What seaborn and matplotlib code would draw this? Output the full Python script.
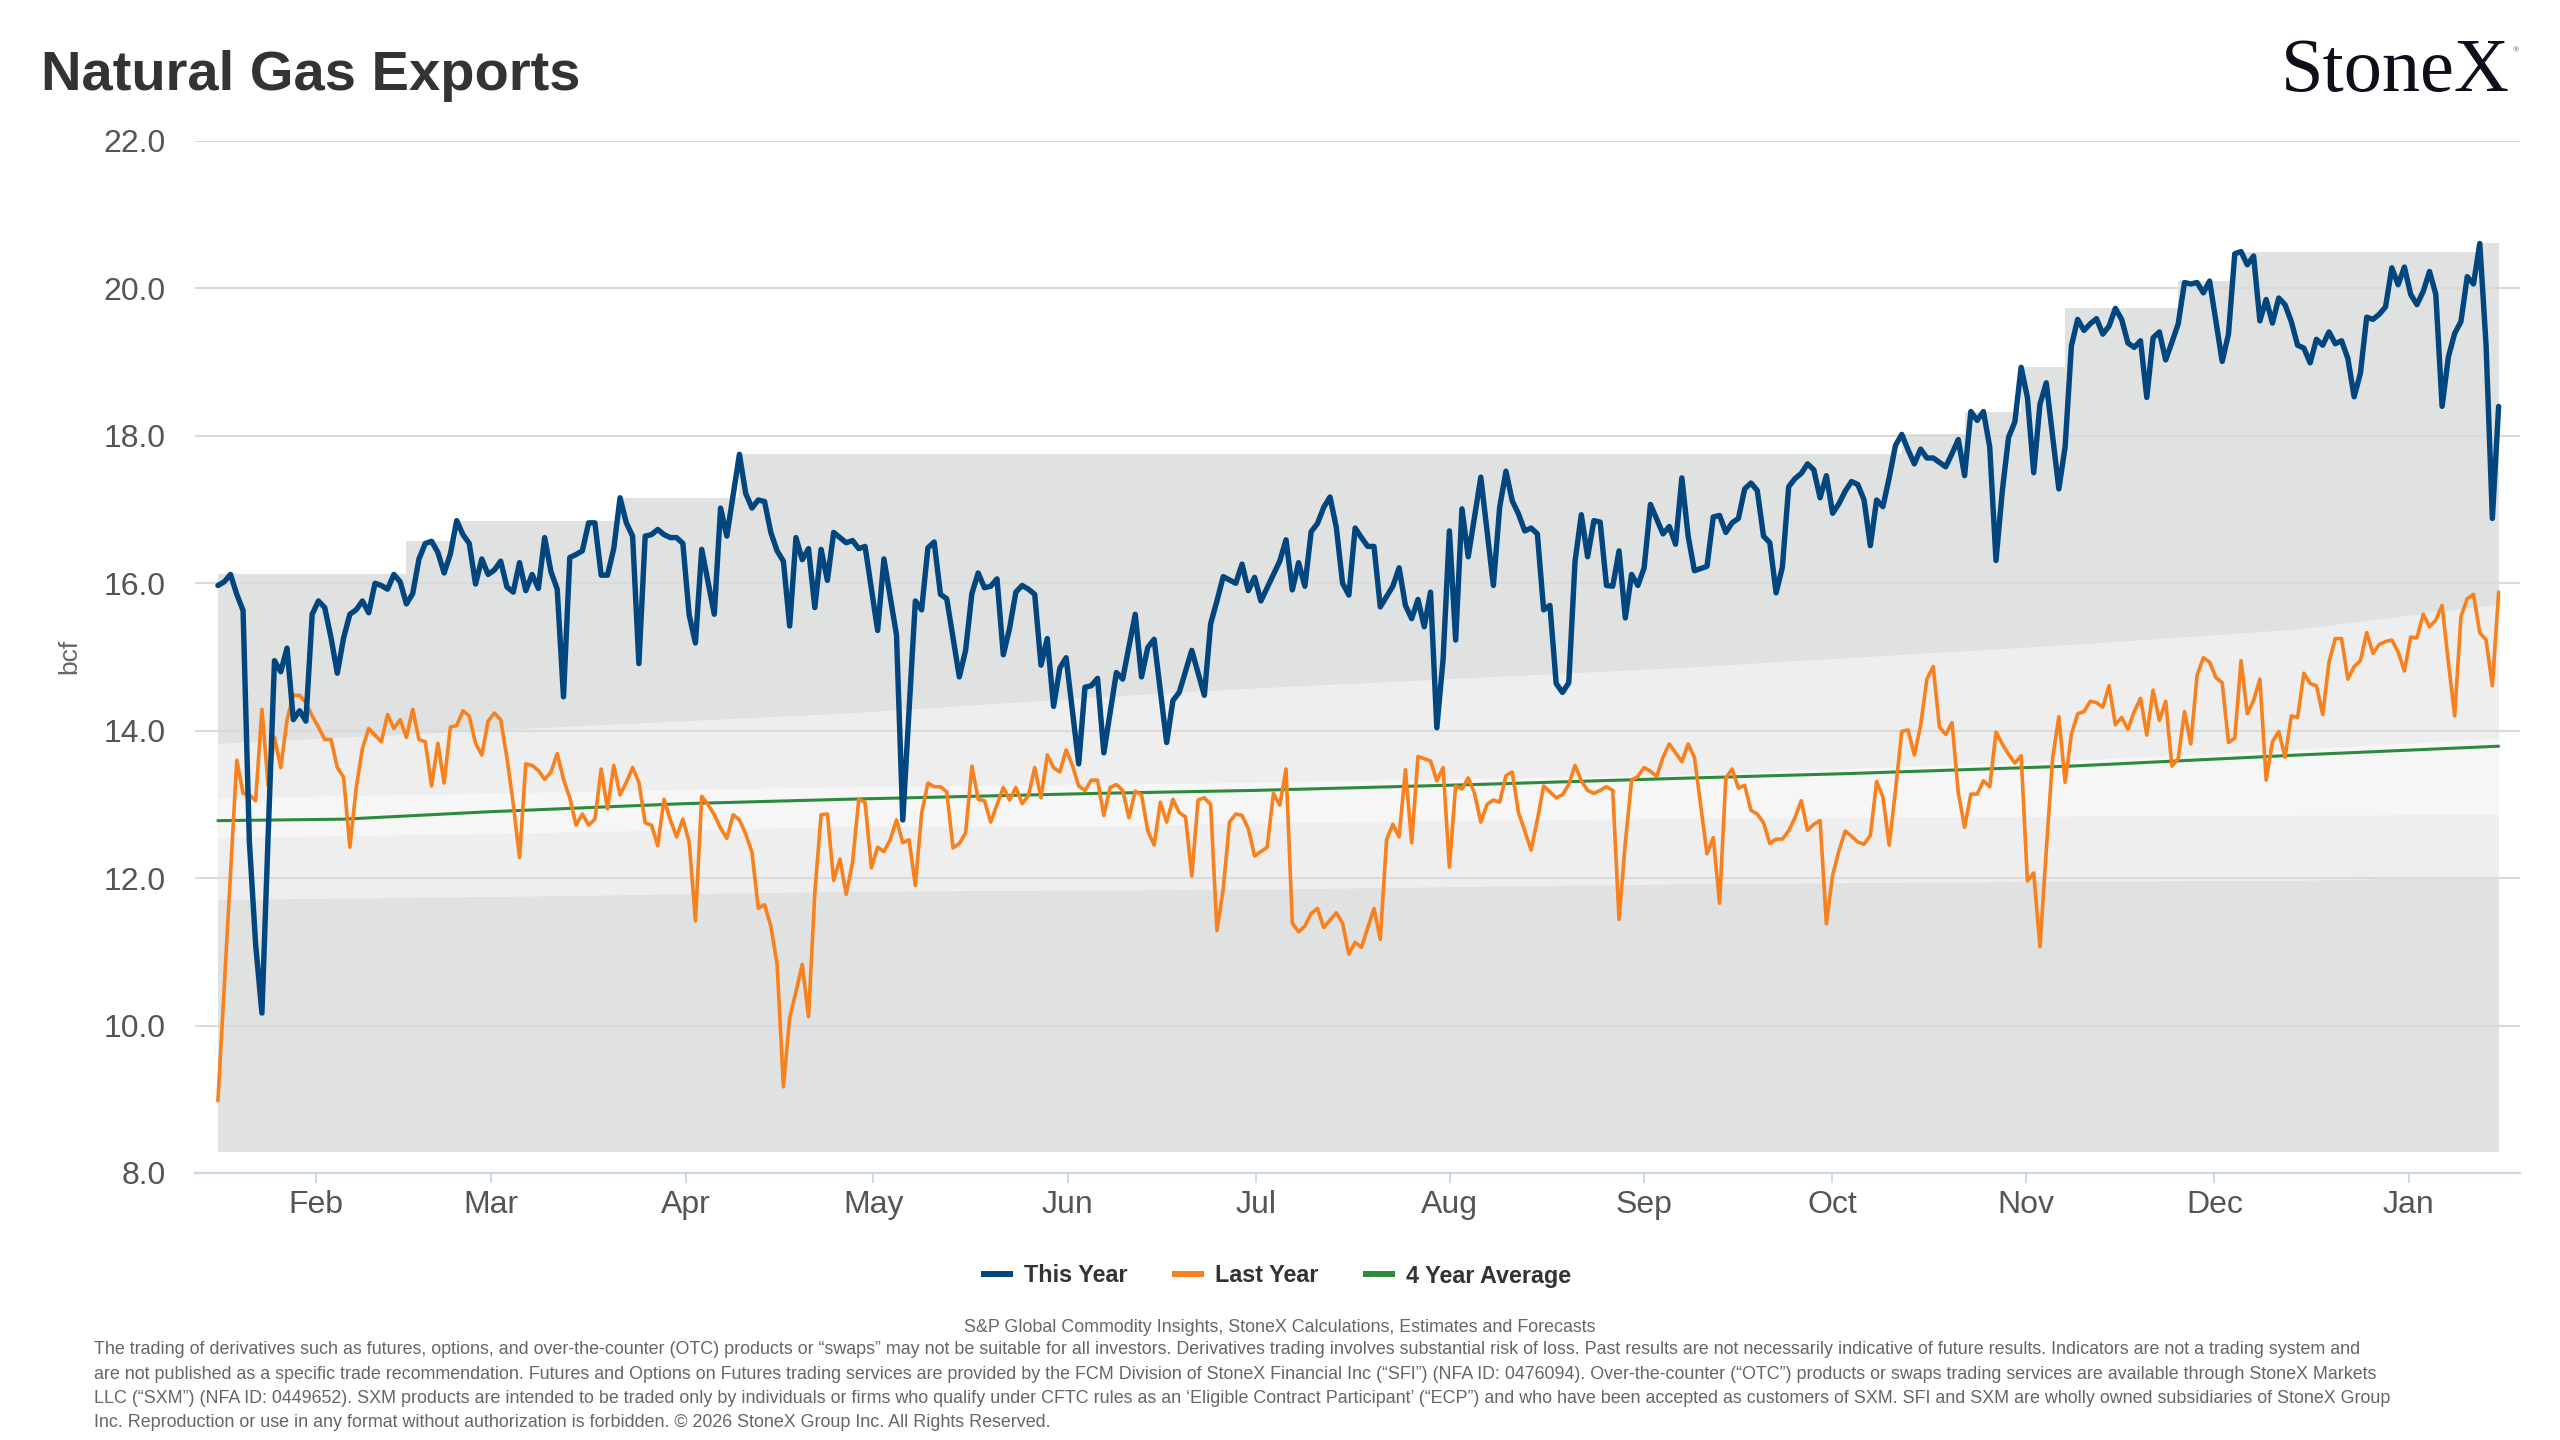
import numpy as np
import pandas as pd
import matplotlib
matplotlib.use("Agg")
import matplotlib.pyplot as plt
import matplotlib.dates as mdates
from matplotlib.lines import Line2D
import seaborn as sns

# day 0 = first point on the chart; points are one (slightly stretched) day apart
start = pd.Timestamp("2025-01-16 09:00")
day_hours = 24.066

this_year_day = list(range(0, 99)) + [
    100, 101, 102, 103, 105, 106, 108, 109, 111, 112, 113, 114, 115, 116, 118, 119, 120, 121,
    122, 123, 124, 125, 126, 127, 128, 129, 130, 131, 132, 133, 134, 135, 137, 138, 139, 140,
    141, 143, 144, 146, 147, 148, 149, 151, 152, 153, 155, 157, 158, 159, 160, 162, 163, 164,
    165, 166, 169, 170, 171, 172, 173, 174, 175, 176, 177, 178, 179, 180, 181, 182, 183, 184,
    185, 186, 187, 188, 189, 190, 191, 192, 193, 194, 195, 196, 197, 198, 199, 201, 203, 204,
    205, 206, 207, 208, 209, 210, 211, 212, 213, 214, 215, 216, 217, 218, 219, 220, 221, 222,
    223, 224, 225, 226, 227, 228, 229, 230, 231, 232, 233, 234, 235, 237, 238, 239, 240, 241,
    242, 243, 244, 245, 246, 247, 248, 249, 250, 251, 252, 253, 254, 255, 256, 257, 258, 259,
    260, 261, 262, 263, 264, 265, 266, 267, 268, 269, 270, 271, 272, 273, 274, 275, 276, 277,
    278, 279, 280, 281, 282, 283, 284, 285, 286, 287, 288, 289, 290, 291, 293, 294, 295, 296,
    297, 298, 299, 300, 301, 302, 303, 304, 305, 306, 307, 308, 309, 310, 311, 312, 313, 314,
    315, 316, 317, 319, 320, 321, 322, 323, 324, 325, 326, 327, 328, 329, 330, 331, 332, 333,
    334, 335, 336, 337, 338, 339, 340, 341, 342, 343, 344, 345, 346, 347, 348, 349, 350, 351,
    352, 353, 354, 355, 356, 357, 358, 359, 360, 361, 362, 363]
this_year_val = [
    15.97, 16.02, 16.12, 15.85, 15.63, 12.50, 11.10, 10.17, 12.60, 14.95, 14.80, 15.12, 14.15,
    14.27, 14.13, 15.58, 15.76, 15.67, 15.26, 14.78, 15.26, 15.58, 15.64, 15.76, 15.60, 16.00,
    15.97, 15.92, 16.12, 16.02, 15.72, 15.86, 16.33, 16.54, 16.57, 16.42, 16.14, 16.40, 16.85,
    16.66, 16.54, 15.99, 16.33, 16.12, 16.18, 16.30, 15.95, 15.88, 16.28, 15.90, 16.12, 15.93,
    16.62, 16.16, 15.92, 14.46, 16.35, 16.39, 16.44, 16.82, 16.82, 16.11, 16.11, 16.47, 17.16,
    16.82, 16.64, 14.91, 16.64, 16.66, 16.73, 16.66, 16.62, 16.62, 16.54, 15.57, 15.19, 16.46,
    16.02, 15.58, 17.02, 16.64, 17.20, 17.75, 17.22, 17.02, 17.13, 17.11, 16.69, 16.44, 16.30,
    15.42, 16.62, 16.32, 16.47, 15.67, 16.46, 16.04, 16.69,
    16.55, 16.58, 16.47, 16.50, 15.36, 16.33, 15.30, 12.79, 15.76, 15.64, 16.48, 16.56, 15.85,
    15.79, 14.73, 15.09, 15.86, 16.14, 15.94, 15.96, 16.06, 15.03, 15.39, 15.88, 15.97, 15.92,
    15.85, 14.89, 15.25, 14.33, 14.85, 14.99, 13.55, 14.59, 14.61, 14.71, 13.70, 14.79, 14.70,
    15.58, 14.73, 15.13, 15.24, 13.84, 14.41, 14.52, 15.09, 14.48, 15.45, 15.76, 16.09, 16.00,
    16.26, 15.90, 16.08, 15.76, 16.30, 16.59, 15.91, 16.28, 15.96, 16.70, 16.81, 17.03, 17.17,
    16.76, 16.00, 15.84, 16.75, 16.62, 16.50, 16.50, 15.68, 15.82, 15.96, 16.21, 15.70, 15.52,
    15.78, 15.41, 15.88, 14.04, 14.97, 16.71, 15.23, 17.01, 16.36, 17.44, 15.97, 17.03, 17.52,
    17.12, 16.94, 16.71, 16.75, 16.67, 15.64, 15.70, 14.64, 14.52, 14.65, 16.30, 16.93, 16.36,
    16.85, 16.83, 15.97, 15.96, 16.44, 15.53, 16.12, 15.97, 16.21, 17.07, 16.87, 16.67, 16.77,
    16.53, 17.43, 16.64, 16.17, 16.23, 16.90, 16.92, 16.69, 16.82, 16.88, 17.28, 17.36, 17.26,
    16.64, 16.55, 15.87, 16.22, 17.31, 17.42, 17.49, 17.62, 17.54, 17.16, 17.46, 16.95, 17.08,
    17.25, 17.38, 17.34, 17.13, 16.51, 17.13, 17.04, 17.43, 17.87, 18.02, 17.81, 17.62, 17.82,
    17.70, 17.70, 17.64, 17.58, 17.76, 17.95, 17.46, 18.33, 18.21, 18.33, 17.85, 16.31, 17.25,
    17.98, 18.19, 18.93, 18.52, 17.50, 18.43, 18.72, 17.28, 17.85, 19.22, 19.58, 19.43, 19.52,
    19.59, 19.38, 19.49, 19.73, 19.58, 19.26, 19.20, 19.29, 18.52, 19.33, 19.41, 19.03, 19.27,
    19.52, 20.08, 20.06, 20.08, 19.94, 20.10, 19.01, 19.38, 20.47, 20.50, 20.32, 20.44, 19.56,
    19.85, 19.53, 19.87, 19.78, 19.55, 19.23, 19.19, 18.99, 19.31, 19.23, 19.41, 19.25, 19.29,
    19.05, 18.53, 18.85, 19.61, 19.58, 19.65, 19.75, 20.28, 20.05, 20.29, 19.92, 19.78, 19.96,
    20.23, 19.92, 18.40, 19.07, 19.39, 19.55, 20.16, 20.06, 20.61, 19.23, 16.88, 18.40]

last_year_day = [0] + list(range(3, 99)) + [
    99, 100, 101, 102, 103, 104, 105, 106, 107, 108, 109, 110, 111, 112, 113, 114, 115, 116,
    117, 118, 119, 120, 121, 122, 123, 125, 126, 127, 128, 129, 130, 131, 132, 133, 134, 135,
    136, 137, 138, 139, 140, 141, 142, 143, 144, 145, 146, 147, 148, 149, 150, 151, 152, 153,
    154, 155, 156, 157, 158, 159, 160, 161, 162, 163, 164, 165, 167, 168, 169, 170, 171, 172,
    173, 174, 175, 176, 178, 179, 180, 181, 182, 184, 185, 186, 187, 188, 189, 190, 191, 193,
    194, 195, 196, 197, 198, 199, 200, 201, 202, 203, 204, 205, 206, 207, 208, 209, 210, 211,
    212, 213, 214, 215, 216, 217, 218, 219, 220, 221, 222, 223, 224, 225, 226, 227, 228, 229,
    230, 231, 233, 234, 235, 236, 237, 238, 239, 240, 241, 242, 243, 244, 245, 246, 247, 248,
    249, 250, 251, 252, 253, 254, 255, 256, 257, 258, 259, 260, 261, 262, 263, 264, 265, 266,
    267, 268, 269, 270, 271, 272, 273, 274, 275, 276, 277, 278, 279, 280, 281, 282, 283, 284,
    285, 286, 287, 288, 289, 290, 291, 292, 293, 294, 295, 296, 297, 298, 299, 300, 301, 302,
    303, 304, 305, 306, 307, 308, 309, 310, 311, 312, 313, 314, 315, 316, 317, 318, 319, 320,
    321, 322, 323, 324, 325, 326, 327, 328, 329, 330, 331, 332, 333, 334, 335, 336, 337, 338,
    339, 340, 341, 342, 343, 344, 345, 346, 347, 348, 349, 350, 351, 352, 353, 354, 355, 356,
    357, 358, 359, 360, 361, 362, 363]
last_year_val = [
    8.98, 13.60, 13.15, 13.13, 13.05, 14.29, 13.25, 13.91, 13.50, 14.15, 14.48, 14.48, 14.38,
    14.20, 14.05, 13.88, 13.88, 13.50, 13.37, 12.42, 13.22, 13.76, 14.03, 13.94, 13.85, 14.22,
    14.03, 14.15, 13.91, 14.29, 13.88, 13.85, 13.25, 13.83, 13.29, 14.05, 14.07, 14.27, 14.20,
    13.83, 13.67, 14.13, 14.24, 14.15, 13.63, 13.01, 12.28, 13.55, 13.53, 13.46, 13.34, 13.44,
    13.69, 13.34, 13.09, 12.72, 12.87, 12.72, 12.80, 13.48, 12.94, 13.53, 13.13, 13.30, 13.50,
    13.30, 12.75, 12.72, 12.44, 13.07, 12.79, 12.56, 12.80, 12.49, 11.42, 13.11, 13.00, 12.86,
    12.68, 12.54, 12.86, 12.79, 12.60, 12.35, 11.59, 11.64, 11.35, 10.83, 9.17, 10.10, 10.46,
    10.83, 10.12, 11.80, 12.86, 12.87, 11.97,
    12.26, 11.78, 12.21, 13.07, 13.03, 12.14, 12.42, 12.36, 12.52, 12.79, 12.48, 12.52, 11.90,
    12.88, 13.29, 13.24, 13.24, 13.17, 12.41, 12.47, 12.61, 13.52, 13.07, 13.05, 12.76, 13.23,
    13.06, 13.23, 13.01, 13.12, 13.50, 13.09, 13.67, 13.50, 13.44, 13.74, 13.53, 13.25, 13.19,
    13.33, 13.33, 12.85, 13.23, 13.27, 13.19, 12.82, 13.18, 13.13, 12.64, 12.45, 13.03, 12.76,
    13.07, 12.89, 12.83, 12.03, 13.06, 13.09, 13.00, 11.29, 11.85, 12.76, 12.87, 12.85, 12.67,
    12.30, 12.42, 13.15, 12.99, 13.48, 11.39, 11.27, 11.35, 11.52, 11.59, 11.33, 11.53, 11.39,
    10.97, 11.13, 11.06, 11.59, 11.17, 12.52, 12.73, 12.56, 13.47, 12.48, 13.65, 13.59, 13.32,
    13.50, 12.15, 13.25, 13.21, 13.36, 13.15, 12.76, 13.00, 13.06, 13.03, 13.39, 13.44, 12.89,
    12.64, 12.38, 12.79, 13.25, 13.17, 13.09, 13.13, 13.27, 13.53, 13.32, 13.19, 13.15, 13.19,
    13.24, 13.19, 11.44, 12.48, 13.33, 13.38, 13.50, 13.45, 13.38, 13.64, 13.82, 13.58, 13.82,
    13.64, 12.98, 12.33, 12.55, 11.66, 13.36, 13.48, 13.22, 13.26, 12.92, 12.87, 12.75, 12.47,
    12.53, 12.53, 12.64, 12.82, 13.05, 12.65, 12.73, 12.78, 11.38, 12.04, 12.37, 12.64, 12.57,
    12.49, 12.46, 12.58, 13.31, 13.10, 12.45, 13.19, 13.99, 14.01, 13.67, 14.07, 14.70, 14.87,
    14.05, 13.95, 14.11, 13.16, 12.69, 13.14, 13.14, 13.32, 13.24, 13.98, 13.82, 13.68, 13.56,
    13.66, 11.96, 12.07, 11.07, 12.37, 13.62, 14.19, 13.30, 13.95, 14.23, 14.26, 14.40, 14.38,
    14.32, 14.61, 14.08, 14.18, 14.02, 14.26, 14.44, 13.94, 14.55, 14.14, 14.40, 13.52, 13.62,
    14.26, 13.82, 14.75, 14.99, 14.93, 14.72, 14.65, 13.84, 13.90, 14.95, 14.23, 14.41, 14.70,
    13.33, 13.85, 13.99, 13.64, 14.20, 14.18, 14.78, 14.64, 14.61, 14.22, 14.93, 15.25, 15.25,
    14.70, 14.87, 14.95, 15.33, 15.05, 15.17, 15.21, 15.23, 15.07, 14.81, 15.27, 15.26, 15.58,
    15.41, 15.50, 15.70, 14.93, 14.20, 15.55, 15.79, 15.85, 15.33, 15.23, 14.61, 15.88]

avg_day = [0, 20, 43, 74, 100, 140, 165, 200, 231, 260, 295, 331, 363]
avg_val = [12.78, 12.80, 12.90, 13.01, 13.07, 13.15, 13.19, 13.27, 13.35, 13.42, 13.52, 13.67, 13.79]

# shaded range: outer max (stepped) and floor, then two inner bands
max_step_day = [0, 30, 38, 64, 83, 268, 278, 287, 294, 312, 321, 360, 363]
max_step_val = [16.12, 16.57, 16.85, 17.16, 17.75, 18.02, 18.33, 18.93, 19.73, 20.10, 20.50, 20.62, 20.62]
range_floor = 8.28
band_day = [0, 53, 100, 140, 165, 231, 295, 331, 363]
outer_hi = [13.83, 14.05, 14.24, 14.46, 14.58, 14.85, 15.17, 15.38, 15.72]
inner_hi = [13.09, 13.17, 13.24, 13.28, 13.30, 13.40, 13.60, 13.75, 13.90]
inner_lo = [12.55, 12.62, 12.70, 12.70, 12.75, 12.81, 12.84, 12.85, 12.87]
outer_lo = [11.71, 11.76, 11.82, 11.84, 11.85, 11.92, 11.96, 11.97, 12.02]

series_names = ["This Year", "Last Year", "4 Year Average"]
series_colors = ["#02467f", "#f8801d", "#2c8a3c"]


def to_dates(days):
    return start + pd.to_timedelta(np.array(days, dtype=float) * day_hours, unit="h")


sns.set_theme(style="white")
plt.rcParams["font.family"] = ["Liberation Sans", "DejaVu Sans"]

fig = plt.figure(figsize=(25.6, 14.4), dpi=100)
ax = fig.add_axes([195 / 2560, 1 - 1173 / 1440, (2520 - 195) / 2560, (1173 - 141) / 1440])

# bands
ax.fill_between(to_dates(max_step_day), range_floor, max_step_val, step="post",
                color="#e0e1e1", lw=0, zorder=0.2)
ax.fill_between(to_dates(band_day), outer_lo, outer_hi, color="#eeeeee", lw=0, zorder=0.3)
ax.fill_between(to_dates(band_day), inner_lo, inner_hi, color="#f6f6f6", lw=0, zorder=0.35)

# lines
sns.lineplot(x=to_dates(avg_day), y=avg_val, ax=ax, color=series_colors[2], linewidth=2.2,
             zorder=3)
sns.lineplot(x=to_dates(last_year_day), y=last_year_val, ax=ax, color=series_colors[1],
             linewidth=2.6, zorder=4)
sns.lineplot(x=to_dates(this_year_day), y=this_year_val, ax=ax, color=series_colors[0],
             linewidth=3.9, zorder=5)
for ln in ax.lines:
    ln.set_solid_joinstyle("round")

ax.set_ylim(8, 22)
ax.set_xlim(to_dates([-3.65])[0], to_dates([366.4])[0])
ax.set_yticks(np.arange(8, 22.1, 2))
ax.yaxis.set_major_formatter(matplotlib.ticker.FormatStrFormatter("%.1f"))
ax.xaxis.set_major_locator(mdates.MonthLocator())
ax.xaxis.set_major_formatter(mdates.DateFormatter("%b"))

ax.set_axisbelow(True)
ax.grid(axis="y", color="#dadada", lw=1.5, zorder=0.5)
ax.grid(axis="x", visible=False)
for s in ["top", "right", "left"]:
    ax.spines[s].set_visible(False)
ax.spines["bottom"].set_color("#ccd6eb")
ax.spines["bottom"].set_linewidth(1.6)
ax.spines["bottom"].set_zorder(6)
ax.tick_params(axis="y", length=0, pad=21, labelsize=23, labelcolor="#555555")
ax.tick_params(axis="x", length=7, width=1.3, color="#ccd6eb", pad=5, labelsize=23,
               labelcolor="#555555", bottom=True)
ax.set_xlabel("")
ax.set_ylabel("")
ax.patch.set_alpha(0)

fig.text(69 / 2560, 1 - 656 / 1440, "bcf", rotation=90, fontsize=19, color="#666666",
         ha="center", va="center")

fig.text(41 / 2560, 1 - 90 / 1440, "Natural Gas Exports", fontsize=40.4, weight="bold",
         color="#333333", ha="left", va="baseline")
fig.text(2510 / 2560, 1 - 91 / 1440, "StoneX", family="Liberation Serif", fontsize=55,
         color="#0e0f1a", ha="right", va="baseline")
fig.text(2513 / 2560, 1 - 50 / 1440, "\u00ae", family="Liberation Serif", fontsize=6,
         color="#555555", ha="left", va="center")

handles = [Line2D([], [], color=c, lw=4.3, solid_capstyle="butt") for c in series_colors]
leg = fig.legend(handles, series_names, loc="center", bbox_to_anchor=(1276 / 2560, 1 - 1276 / 1440),
                 ncol=3, frameon=False, prop={"weight": "bold", "size": 16.8},
                 handlelength=1.37, handletextpad=0.47, columnspacing=1.93)
for t in leg.get_texts():
    t.set_color("#333333")

fig.text(0.5, 1 - 1328 / 1440,
         "S&P Global Commodity Insights, StoneX Calculations, Estimates and Forecasts",
         fontsize=12.9, color="#666666", ha="center", va="center")

disclaimer = [
    "The trading of derivatives such as futures, options, and over-the-counter (OTC) products or \u201cswaps\u201d may not be suitable for all investors. Derivatives trading involves substantial risk of loss. Past results are not necessarily indicative of future results. Indicators are not a trading system and",
    "are not published as a specific trade recommendation. Futures and Options on Futures trading services are provided by the FCM Division of StoneX Financial Inc (\u201cSFI\u201d) (NFA ID: 0476094). Over-the-counter (\u201cOTC\u201d) products or swaps trading services are available through StoneX Markets",
    "LLC (\u201cSXM\u201d) (NFA ID: 0449652). SXM products are intended to be traded only by individuals or firms who qualify under CFTC rules as an \u2018Eligible Contract Participant\u2019 (\u201cECP\u201d) and who have been accepted as customers of SXM. SFI and SXM are wholly owned subsidiaries of StoneX Group",
    "Inc. Reproduction or use in any format without authorization is forbidden. \u00a9 2026 StoneX Group Inc. All Rights Reserved.",
]
for i, line in enumerate(disclaimer):
    fig.text(94 / 2560, 1 - (1350 + 24.2 * i) / 1440, line, fontsize=12.9, color="#666666",
             ha="left", va="center")

fig.savefig("out.png", dpi=100, facecolor="white")
